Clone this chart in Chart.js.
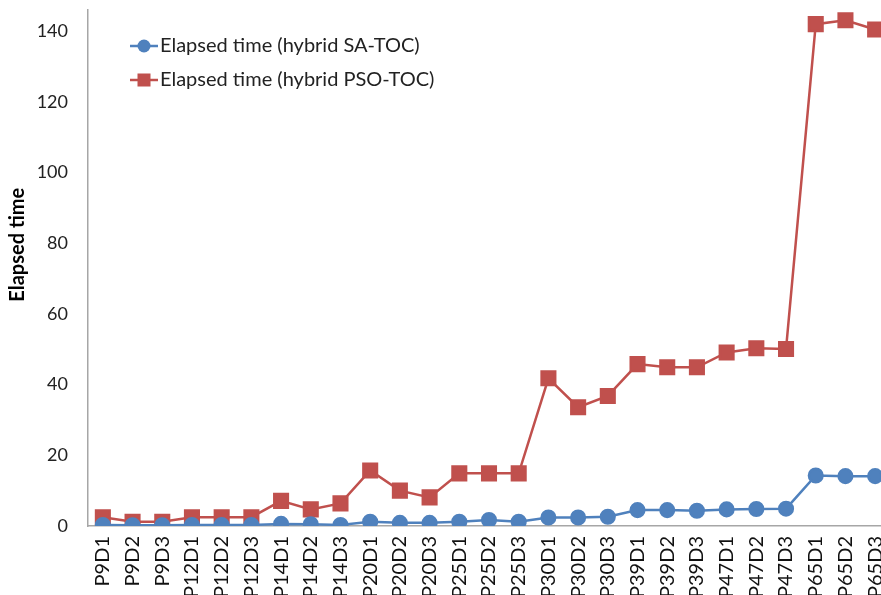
<!DOCTYPE html>
<html>
<head>
<meta charset="utf-8">
<script src="https://cdn.jsdelivr.net/npm/chart.js@4.4.1/dist/chart.umd.min.js"></script>
<style>
  html, body { margin: 0; padding: 0; background: #fff; overflow: hidden; }
  canvas { display: block; }
</style>
</head>
<body>
<canvas id="timeChart" width="890" height="610"></canvas>
<script>
// categories (problem / dataset)
const categories = ['P9D1', 'P9D2', 'P9D3', 'P12D1', 'P12D2', 'P12D3', 'P14D1', 'P14D2', 'P14D3',
  'P20D1', 'P20D2', 'P20D3', 'P25D1', 'P25D2', 'P25D3', 'P30D1', 'P30D2', 'P30D3',
  'P39D1', 'P39D2', 'P39D3', 'P47D1', 'P47D2', 'P47D3', 'P65D1', 'P65D2', 'P65D3'];

// elapsed time values
const saToc = [0.3, 0.2, 0.2, 0.3, 0.3, 0.3, 0.6, 0.5, 0.3,
  1.2, 0.9, 0.9, 1.2, 1.7, 1.2, 2.4, 2.4, 2.6,
  4.5, 4.5, 4.3, 4.7, 4.8, 4.9, 14.3, 14.1, 14.1];
const psoToc = [2.5, 1.2, 1.2, 2.5, 2.5, 2.5, 7.1, 4.7, 6.4,
  15.7, 10, 8.1, 14.9, 14.9, 14.9, 41.8, 33.6, 36.8,
  45.8, 44.9, 44.9, 49.1, 50.3, 50.1, 142, 143.1, 140.5];

const seriesNames = ['Elapsed time (hybrid SA-TOC)', 'Elapsed time (hybrid PSO-TOC)'];
const yTicks = [0, 20, 40, 60, 80, 100, 120, 140];
const yTitle = 'Elapsed time';

const FONT = 'Lato, "Open Sans", sans-serif';

// legend inside the plot (top-left, stacked) + y axis title, a bit above centre as in the original
const extras = {
    id: 'extras',
    afterDraw(chart) {
        const ctx = chart.ctx;
        const area = chart.chartArea;
        const x0 = area.left + 42;
        let y = area.top + 36;
        ctx.save();
        chart.data.datasets.forEach(ds => {
            ctx.strokeStyle = ds.borderColor;
            ctx.lineWidth = 2.5;
            ctx.beginPath();
            ctx.moveTo(x0, y);
            ctx.lineTo(x0 + 28, y);
            ctx.stroke();
            ctx.fillStyle = ds.pointBackgroundColor;
            if (ds.pointStyle === 'rect') {
                ctx.fillRect(x0 + 14 - 6.5, y - 6.5, 13, 13);
            } else {
                ctx.beginPath();
                ctx.arc(x0 + 14, y, 6.5, 0, Math.PI * 2);
                ctx.fill();
            }
            ctx.fillStyle = '#222';
            ctx.font = '20px ' + FONT;
            ctx.textBaseline = 'middle';
            ctx.textAlign = 'left';
            ctx.fillText(ds.label, x0 + 30, y);
            y += 34;
        });

        ctx.translate(18, area.top + (area.bottom - area.top) * 0.455);
        ctx.rotate(-Math.PI / 2);
        ctx.fillStyle = '#000';
        ctx.font = 'bold 20px ' + FONT;
        ctx.textAlign = 'center';
        ctx.textBaseline = 'middle';
        ctx.fillText(yTitle, 0, 0);
        ctx.restore();
    }
};

const ctx = document.getElementById('timeChart').getContext('2d');
new Chart(ctx, {
    type: 'line',
    data: {
        labels: categories,
        datasets: [{
            label: seriesNames[0],
            data: saToc,
            borderColor: '#4F81BD',
            backgroundColor: '#4F81BD',
            pointBackgroundColor: '#4F81BD',
            pointBorderColor: '#4F81BD',
            pointStyle: 'circle',
            pointRadius: 6.8,
            borderWidth: 2.5,
            tension: 0
        }, {
            label: seriesNames[1],
            data: psoToc,
            borderColor: '#C0504D',
            backgroundColor: '#C0504D',
            pointBackgroundColor: '#C0504D',
            pointBorderColor: '#C0504D',
            pointStyle: 'rect',
            pointRadius: 9.6,
            borderWidth: 2.5,
            tension: 0
        }]
    },
    options: {
        responsive: false,
        animation: false,
        layout: { autoPadding: false, padding: { top: 10, left: 0, right: 0, bottom: 0 } },
        plugins: {
            legend: { display: false },
            tooltip: { enabled: false }
        },
        scales: {
            x: {
                offset: true,
                grid: { display: false, drawTicks: false },
                border: { color: '#A6A6A6', width: 1.5 },
                ticks: {
                    color: '#111',
                    font: { family: FONT, size: 20 },
                    maxRotation: 90,
                    minRotation: 90,
                    autoSkip: false,
                    padding: 10
                },
                afterFit(scale) {
                    scale.height = 84;
                    scale.paddingLeft = 0;
                    scale.paddingRight = 0;
                }
            },
            y: {
                min: 0,
                max: 146,
                grid: { display: false, drawTicks: false },
                border: { color: '#A6A6A6', width: 1.5 },
                afterBuildTicks(scale) {
                    scale.ticks = yTicks.map(v => ({ value: v }));
                },
                ticks: {
                    color: '#222',
                    font: { family: FONT, size: 18 },
                    padding: 20
                },
                afterFit(scale) {
                    scale.width = 88;
                    scale.paddingTop = 0;
                    scale.paddingBottom = 0;
                }
            }
        }
    },
    plugins: [extras]
});
</script>
</body>
</html>
